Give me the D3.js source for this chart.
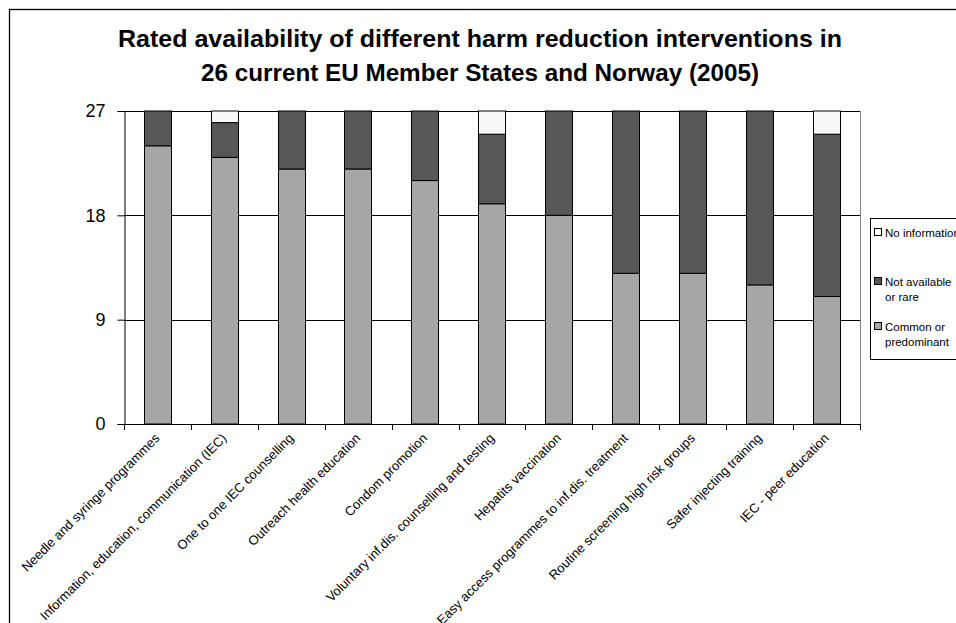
<!DOCTYPE html>
<html>
<head>
<meta charset="utf-8">
<script src="https://cdn.jsdelivr.net/npm/d3@7"></script>
<style>
  html, body { margin: 0; padding: 0; background: #fff; }
  svg { display: block; font-family: Arial, "Liberation Sans", sans-serif; }
</style>
</head>
<body>
<svg id="chart" width="956" height="623"></svg>
<script>
// Interventions, in display order
const categories = [
  "Needle and syringe programmes",
  "Information, education, communication (IEC)",
  "One to one IEC counselling",
  "Outreach health education",
  "Condom promotion",
  "Voluntary inf.dis. counselling and testing",
  "Hepatits vaccination",
  "Easy access programmes to inf.dis. treatment",
  "Routine screening high risk groups",
  "Safer injecting training",
  "IEC - peer education"
];

// Number of countries per rating
const commonOrPredominant = [24, 23, 22, 22, 21, 19, 18, 13, 13, 12, 11];
const notAvailableOrRare  = [3, 3, 5, 5, 6, 6, 9, 14, 14, 15, 14];
const noInformation       = [0, 1, 0, 0, 0, 2, 0, 0, 0, 0, 2];

const yTicks = [0, 9, 18, 27];

const seriesKeys = ["common", "notAvail", "noInfo"];
const seriesLabels = {
  noInfo: ["No information"],
  notAvail: ["Not available", "or rare"],
  common: ["Common or", "predominant"]
};
const colors = { common: "#a6a6a6", notAvail: "#575757", noInfo: "#f8f8f8" };

const rows = categories.map((c, i) => ({
  category: c,
  common: commonOrPredominant[i],
  notAvail: notAvailableOrRare[i],
  noInfo: noInformation[i]
}));

const svg = d3.select("#chart");

// Outer chart frame
svg.append("rect")
  .attr("x", 9.5).attr("y", 9.5)
  .attr("width", 1000).attr("height", 700)
  .attr("fill", "none").attr("stroke", "#000").attr("stroke-width", 1.3);

// Title (condensed bold face)
const titleLines = [
  { text: "Rated availability of different harm reduction interventions in", y: 47, width: 724 },
  { text: "26 current EU Member States and Norway (2005)", y: 81, width: 558 }
];
svg.append("g")
  .selectAll("text")
  .data(titleLines)
  .join("text")
  .attr("x", 480).attr("y", d => d.y)
  .attr("text-anchor", "middle")
  .attr("font-weight", "bold").attr("font-size", 24)
  .attr("font-family", "'Liberation Sans Narrow', 'Arial Narrow', Arial, 'Liberation Sans', sans-serif")
  .attr("textLength", d => d.width)
  .attr("lengthAdjust", "spacingAndGlyphs")
  .text(d => d.text);

const plot = { left: 124, right: 860, top: 111, bottom: 424 };

const x = d3.scaleBand()
  .domain(categories)
  .range([plot.left, plot.right])
  .paddingInner(0.59)
  .paddingOuter(0.295);

const y = d3.scaleLinear()
  .domain([0, 27])
  .range([plot.bottom, plot.top]);

// Horizontal gridlines
svg.append("g")
  .selectAll("line")
  .data(yTicks.filter(t => t > 0))
  .join("line")
  .attr("x1", plot.left).attr("x2", plot.right)
  .attr("y1", d => Math.round(y(d)) + 0.5).attr("y2", d => Math.round(y(d)) + 0.5)
  .attr("stroke", "#000").attr("stroke-width", 1);

// Right edge of plot area
svg.append("line")
  .attr("x1", plot.right + 0.5).attr("x2", plot.right + 0.5)
  .attr("y1", plot.top).attr("y2", plot.bottom)
  .attr("stroke", "#808080").attr("stroke-width", 1);

// Stacked bars
const stack = d3.stack().keys(seriesKeys);
const stacked = stack(rows);

svg.append("g")
  .selectAll("g")
  .data(stacked)
  .join("g")
  .attr("fill", d => colors[d.key])
  .selectAll("rect")
  .data(d => d.filter(s => s[1] - s[0] > 0))
  .join("rect")
  .attr("x", d => Math.round(x(d.data.category)) + 0.5)
  .attr("y", d => y(d[1]))
  .attr("width", Math.round(x.bandwidth()))
  .attr("height", d => y(d[0]) - y(d[1]))
  .attr("stroke", "#000").attr("stroke-width", 1);

// Y axis
const yAxis = d3.axisLeft(y).tickValues(yTicks).tickSize(7).tickPadding(12);
const yG = svg.append("g")
  .attr("transform", `translate(${plot.left + 0.5},0)`)
  .call(yAxis);
yG.select(".domain").attr("stroke", "#000");
yG.selectAll(".tick line").attr("stroke", "#000");
yG.selectAll(".tick text")
  .attr("font-size", 18).attr("fill", "#000")
  .attr("font-family", "Arial, 'Liberation Sans', sans-serif");

// X axis line with boundary ticks
const xG = svg.append("g");
xG.append("line")
  .attr("x1", plot.left).attr("x2", plot.right)
  .attr("y1", plot.bottom + 0.5).attr("y2", plot.bottom + 0.5)
  .attr("stroke", "#000");
const boundaries = categories.map(c => x(c) - x.step() * x.paddingOuter())
  .concat([plot.right]);
xG.selectAll("line.tick")
  .data(boundaries)
  .join("line")
  .attr("class", "tick")
  .attr("x1", d => Math.round(d) + 0.5).attr("x2", d => Math.round(d) + 0.5)
  .attr("y1", plot.bottom).attr("y2", plot.bottom + 6)
  .attr("stroke", "#000");

// Rotated category labels
xG.selectAll("text")
  .data(categories)
  .join("text")
  .attr("transform", d => `translate(${x(d) + x.bandwidth() / 2 + 3},${plot.bottom + 15}) rotate(-45)`)
  .attr("text-anchor", "end")
  .attr("font-size", 13)
  .attr("fill", "#000")
  .text(d => d);

// Legend
const legend = svg.append("g");
legend.append("rect")
  .attr("x", 870.5).attr("y", 218.5)
  .attr("width", 120).attr("height", 141)
  .attr("fill", "#fff").attr("stroke", "#000");

const legendItems = [
  { key: "noInfo", y: 237 },
  { key: "notAvail", y: 286 },
  { key: "common", y: 331 }
];
legendItems.forEach(item => {
  legend.append("rect")
    .attr("x", 874.5).attr("y", item.y - 8.5)
    .attr("width", 7).attr("height", 7)
    .attr("fill", colors[item.key]).attr("stroke", "#000");
  const t = legend.append("text")
    .attr("font-size", 11.5).attr("fill", "#000");
  seriesLabels[item.key].forEach((line, j) => {
    t.append("tspan").attr("x", 885).attr("y", item.y + j * 15).text(line);
  });
});
</script>
</body>
</html>
